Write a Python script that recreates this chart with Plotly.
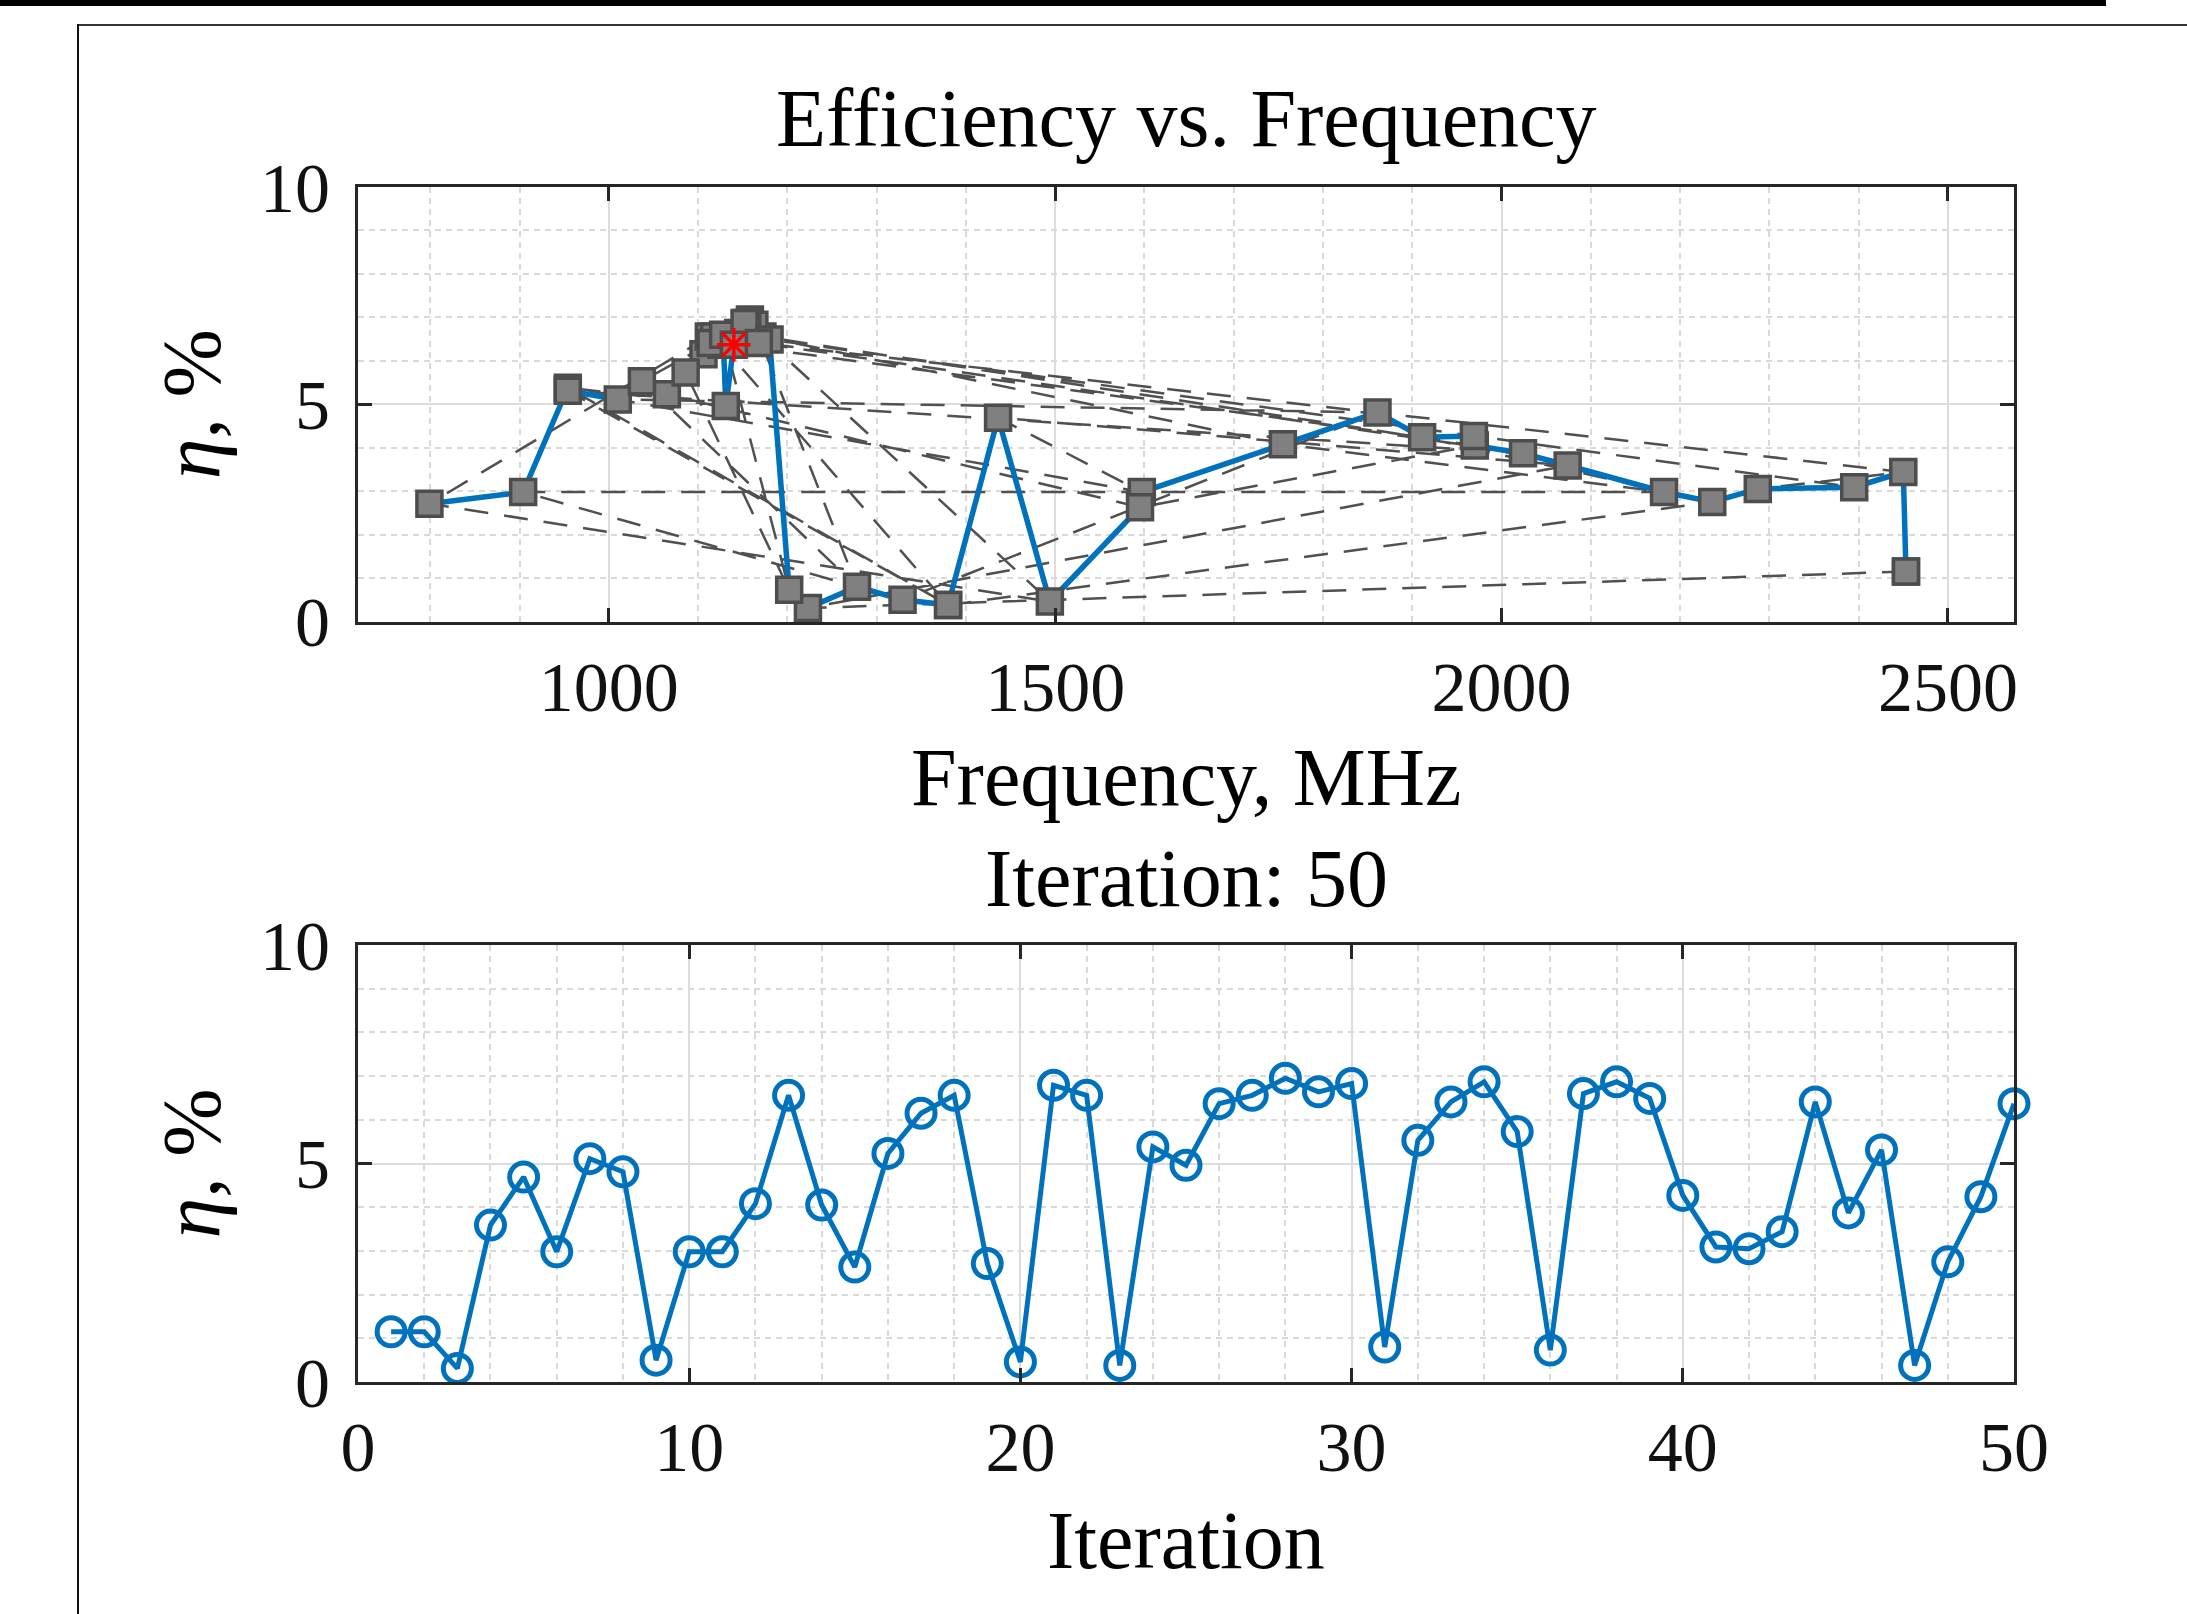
import plotly.graph_objects as go

# ---------------- data ----------------
iterations = list(range(1, 51))
efficiency = [1.15, 1.15, 0.31, 3.59, 4.69, 2.98, 5.11, 4.81, 0.50, 2.98,
              2.98, 4.08, 6.56, 4.05, 2.63, 5.23, 6.15, 6.56, 2.71, 0.46,
              6.79, 6.56, 0.38, 5.38, 4.96, 6.37, 6.56, 6.95, 6.64, 6.83,
              0.80, 5.53, 6.41, 6.87, 5.73, 0.73, 6.60, 6.87, 6.49, 4.27,
              3.09, 3.05, 3.44, 6.41, 3.87, 5.31, 0.38, 2.75, 4.24, 6.37]
frequency = [2453, 2453, 1223, 2074, 1436, 1597, 1010, 1861, 1329, 904,
             2182, 1755, 1172, 1970, 1595, 1065, 1106, 1112, 799, 1494,
             1160, 1118, 1380, 954, 1131, 1126, 1150, 1158, 1145, 1163,
             1278, 1037, 1114, 1155, 1086, 1202, 1128, 1152, 1180, 1969,
             2395, 2287, 2450, 1168, 2024, 954, 1380, 2236, 1911, 1140]
freq_ticks = [1000, 1500, 2000, 2500]
freq_range = [719, 2574]
iter_ticks = [0, 10, 20, 30, 40, 50]
eta_ticks = [0, 5, 10]

order = sorted(range(len(frequency)), key=lambda i: frequency[i])
freq_sorted = [frequency[i] for i in order]
eff_sorted = [efficiency[i] for i in order]

# ---------------- geometry ----------------
W, H = 2187, 1614
L, R, T, B = 358, 2014, 187, 1382


def pxx(px):
    return (px - L) / (R - L)


def pxy(py):
    return (B - py) / (B - T)


FONT = "Liberation Serif"
BLUE = "#0072BD"
AX = "#262626"

fig = go.Figure()

# top panel
fig.add_trace(go.Scatter(x=frequency, y=efficiency, mode="lines",
                         line=dict(color="#505050", width=2.5, dash="24px,16px"),
                         xaxis="x", yaxis="y", hoverinfo="skip"))
fig.add_trace(go.Scatter(x=freq_sorted, y=eff_sorted, mode="lines",
                         line=dict(color=BLUE, width=5.5),
                         xaxis="x", yaxis="y"))
fig.add_trace(go.Scatter(x=frequency, y=efficiency, mode="markers",
                         marker=dict(symbol="square", size=25, color="#808080",
                                     line=dict(color="#4d4d4d", width=3.5)),
                         cliponaxis=False, xaxis="x", yaxis="y"))
fig.add_trace(go.Scatter(x=[frequency[-1]], y=[efficiency[-1]], mode="markers",
                         marker=dict(symbol="asterisk-open", size=28, color="#ff0000",
                                     line=dict(color="#ff0000", width=3.5)),
                         cliponaxis=False, xaxis="x", yaxis="y"))

# bottom panel
fig.add_trace(go.Scatter(x=iterations, y=efficiency, mode="lines+markers",
                         line=dict(color=BLUE, width=5),
                         marker=dict(symbol="circle-open", size=28, color=BLUE,
                                     line=dict(color=BLUE, width=5)),
                         cliponaxis=False, xaxis="x2", yaxis="y2"))

common = dict(showline=True, linecolor=AX, linewidth=3, mirror="allticks",
              ticks="inside", ticklen=14, tickwidth=3, tickcolor=AX,
              showgrid=True, gridcolor="#dcdcdc", gridwidth=2, zeroline=False,
              tickfont=dict(family=FONT, size=70, color="#111111"))

minor_common = dict(showgrid=True, gridcolor="#d9d9d9", gridwidth=2,
                    griddash="6px,5px")

top_dom = [pxy(621.5), 1.0]
bot_dom = [0.0, pxy(945)]

fig.update_layout(
    width=W, height=H,
    margin=dict(l=L, r=W - R, t=T, b=H - B, pad=0),
    paper_bgcolor="white", plot_bgcolor="white",
    showlegend=False,
    xaxis=dict(domain=[0, 1], range=freq_range, tickmode="array",
               tickvals=freq_ticks, ticklabelstandoff=2, anchor="y",
               minor=dict(dtick=100, tick0=0, **minor_common), **common),
    yaxis=dict(domain=top_dom, range=[0, 10], tickmode="array",
               tickvals=eta_ticks, ticklabelstandoff=11, anchor="x",
               minor=dict(dtick=1, tick0=0, **minor_common), **common),
    xaxis2=dict(domain=[0, 1], range=[0, 50], tickmode="array",
                tickvals=iter_ticks, ticklabelstandoff=2, anchor="y2",
                minor=dict(dtick=2, tick0=0, **minor_common), **common),
    yaxis2=dict(domain=bot_dom, range=[0, 10], tickmode="array",
                tickvals=eta_ticks, ticklabelstandoff=11, anchor="x2",
                minor=dict(dtick=1, tick0=0, **minor_common), **common),
)

ann_font = dict(family=FONT, size=82, color="#000000")
labels = [
    ("Efficiency vs. Frequency", 1186, 119, 0),
    ("Frequency, MHz", 1186, 777, 0),
    ("Iteration: 50", 1186, 878, 0),
    ("Iteration", 1186, 1540, 0),
    ("<i>η</i>, %", 191, (187 + 621.5) / 2, -90),
    ("<i>η</i>, %", 191, (945 + 1382) / 2, -90),
]
for text, cx, cy, ang in labels:
    fig.add_annotation(text=text, x=pxx(cx), y=pxy(cy), xref="paper", yref="paper",
                       xanchor="center", yanchor="middle", showarrow=False,
                       textangle=ang, font=ann_font)

# window frame decorations
fig.add_shape(type="rect", xref="paper", yref="paper",
              x0=pxx(-5), x1=pxx(2106), y0=pxy(6), y1=pxy(-5),
              fillcolor="#000000", line=dict(width=0))
fig.add_shape(type="line", xref="paper", yref="paper",
              x0=pxx(77), x1=pxx(2200), y0=pxy(25), y1=pxy(25),
              line=dict(color="#333333", width=2))
fig.add_shape(type="line", xref="paper", yref="paper",
              x0=pxx(78), x1=pxx(78), y0=pxy(24), y1=pxy(1620),
              line=dict(color="#111111", width=2))

fig.write_html("out.html")
